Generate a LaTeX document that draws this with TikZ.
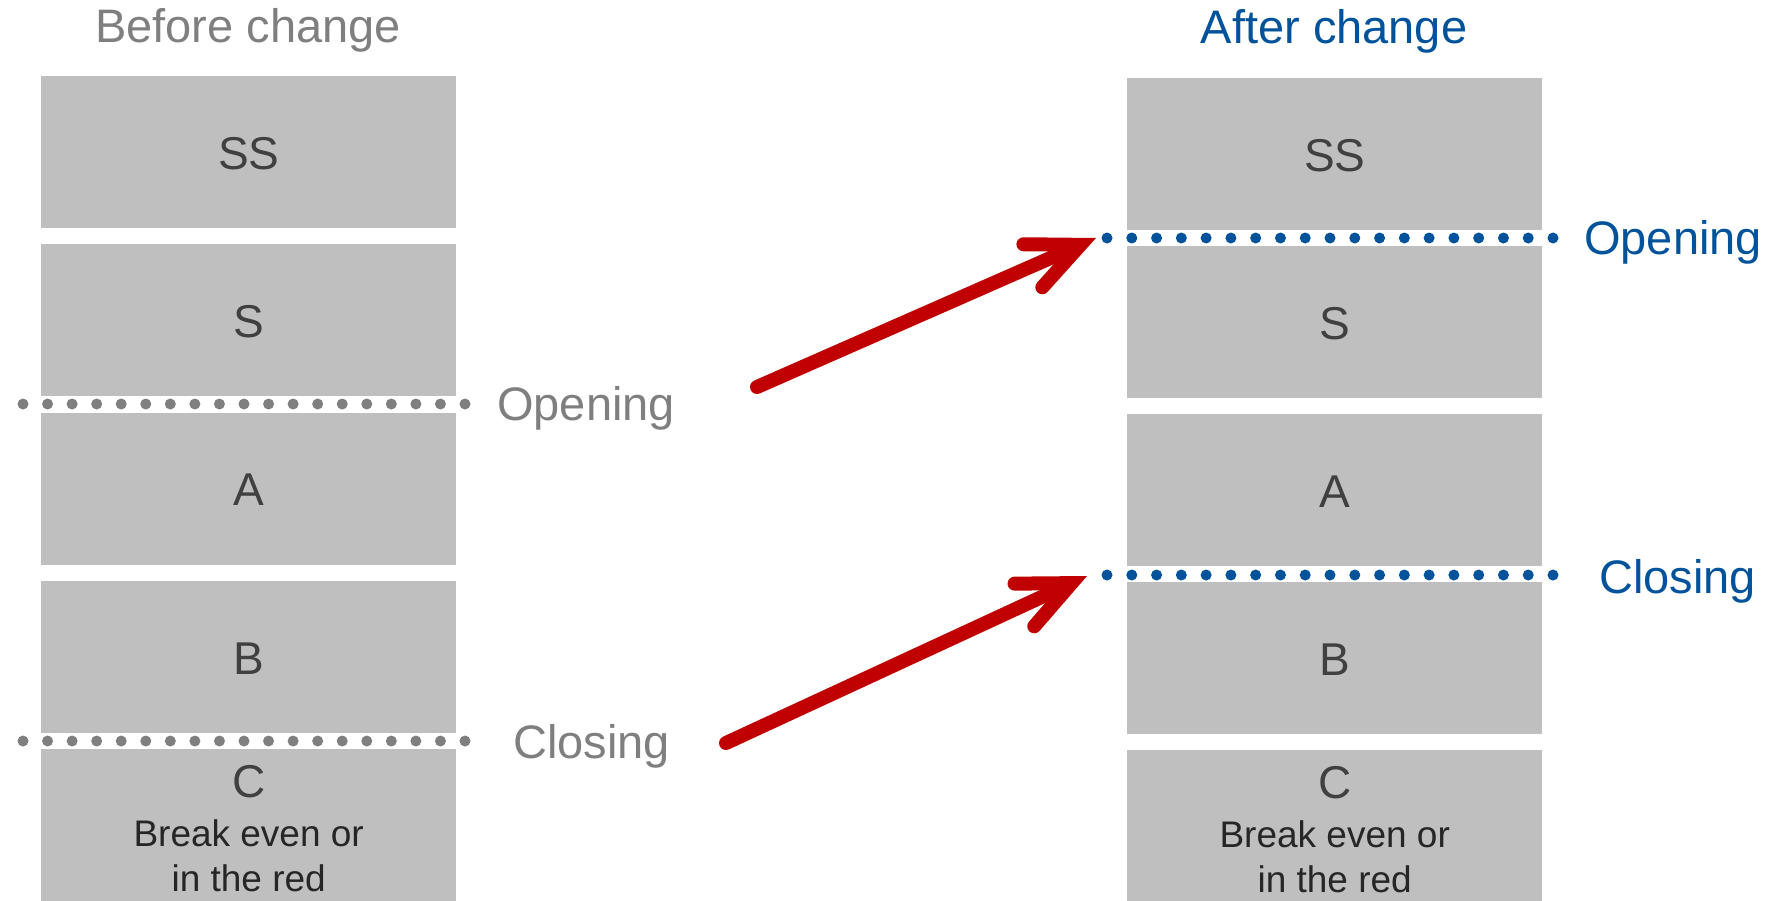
\documentclass[tikz,border=0pt]{standalone}
\usepackage{fontspec}
\setmainfont{Liberation Sans}
\usetikzlibrary{arrows.meta,calc}

\definecolor{boxgray}{HTML}{BFBFBF}
\definecolor{labelgray}{HTML}{404040}
\definecolor{notegray}{HTML}{262626}
\definecolor{oldgray}{HTML}{7F7F7F}
\definecolor{newblue}{HTML}{00529B}
\definecolor{arrowred}{HTML}{C00000}

\begin{document}
\begin{tikzpicture}[x=1pt,y=-1pt,
  band/.style={fill=boxgray, draw=none, anchor=north west,
    minimum width=415pt, minimum height=152pt, inner sep=0pt},
  bandlabel/.style={text=labelgray, inner sep=0pt,
    font=\fontsize{46}{55}\selectfont},
  note/.style={text=notegray, inner sep=0pt,
    font=\fontsize{37}{44}\selectfont},
  heading/.style={inner sep=0pt, font=\fontsize{47}{56}\selectfont},
  linelabel/.style={heading, anchor=west},
  shiftarrow/.style={draw=arrowred, line width=14pt, line cap=round,
    -{Straight Barb[line cap=round, line join=miter, length=52pt, width=47pt]}}
]
\useasboundingbox (0,0) rectangle (1779,900);

% column titles
\node[heading, text=oldgray] (tbefore) at (248,30) {Before change};
\node[heading, text=newblue] (tafter) at (1334,31) {After change};

% left column: ranks before the change
\node[band] (ssL) at (41,76)    {};
\node[band] (sL)  at (41,244)   {};
\node[band] (aL)  at (41,412.5) {};
\node[band] (bL)  at (41,581)   {};
\node[band] (cL)  at (41,749)   {};

% right column: ranks after the change
\node[band] (ssR) at (1127,78)  {};
\node[band] (sR)  at (1127,246) {};
\node[band] (aR)  at (1127,414) {};
\node[band] (bR)  at (1127,582) {};
\node[band] (cR)  at (1127,750) {};

% rank names
\foreach \b/\t in {ssL/SS, sL/S, aL/A, bL/B, ssR/SS, sR/S, aR/A, bR/B}
  \node[bandlabel] (lbl-\b) at ($(\b.center)+(0,1)$) {\t};
\foreach \c in {cL, cR} {
  \node[bandlabel] (lbl-\c) at ($(\c.north)+(0,33)$) {C};
  \node[note] (n1-\c) at ($(\c.north)+(0,84)$) {Break even or};
  \node[note] (n2-\c) at ($(\c.north)+(0,129)$) {in the red};
}

% dotted threshold lines
\coordinate (openLa)  at (23,404);   \coordinate (openLb)  at (465,404);
\coordinate (closeLa) at (23,741);   \coordinate (closeLb) at (465,741);
\coordinate (openRa)  at (1107,238); \coordinate (openRb)  at (1553,238);
\coordinate (closeRa) at (1107,575); \coordinate (closeRb) at (1553,575);
\foreach \a/\z/\col in {openLa/openLb/oldgray, closeLa/closeLb/oldgray,
                         openRa/openRb/newblue, closeRa/closeRb/newblue}
  \foreach \k in {0,...,18}
    \fill[\col] ($(\a)!\k/18!(\z)$) circle (5.5pt);

% threshold names
\node[linelabel, text=oldgray] (openL)  at (497,408)  {Opening};
\node[linelabel, text=oldgray] (closeL) at (513,746)  {Closing};
\node[linelabel, text=newblue] (openR)  at (1584,242) {Opening};
\node[linelabel, text=newblue] (closeR) at (1599,581) {Closing};

% arrows showing where each threshold moves
\coordinate (fromOpen)  at (757,387);
\coordinate (toOpen)    at (1096,238);
\coordinate (fromClose) at (726,743);
\coordinate (toClose)   at (1087,576);
\draw[shiftarrow] (fromOpen) -- (toOpen);
\draw[shiftarrow] (fromClose) -- (toClose);
\end{tikzpicture}
\end{document}
